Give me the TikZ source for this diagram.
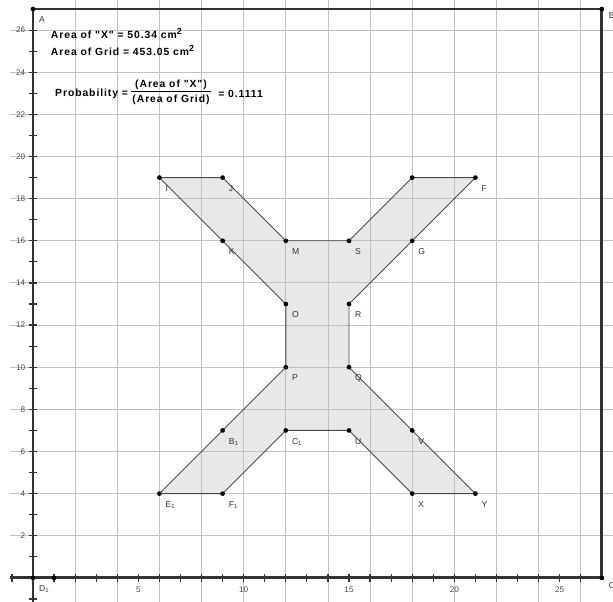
\documentclass[tikz,border=0pt]{standalone}
\usepackage{fontspec}
\setmainfont{Liberation Sans}
\newfontfamily\chicagofont[LetterSpace=9]{Liberation Sans}
\newcommand{\sqsup}{\raisebox{2.4pt}{\fontsize{6}{6}\selectfont 2}}
\begin{document}
\begin{tikzpicture}[x=0.5cm,y=0.5cm,
  gridline/.style={draw=black!24, line width=0.6pt},
  axisline/.style={draw=black!80, line width=1.9pt},
  tickline/.style={draw=black!80, line width=0.8pt},
  edge/.style={draw=black!70, line width=0.6pt},
  fillc/.style={fill=black!9},
  ptlabel/.style={font=\fontsize{5.8}{6}\selectfont, text=black!80, anchor=north west, inner sep=0pt, xshift=4pt, yshift=-5pt},
  axlabel/.style={font=\fontsize{5.5}{6}\selectfont, text=black!70, inner sep=0pt},
  infotext/.style={font=\chicagofont\fontsize{7}{8}\selectfont\bfseries, inner sep=0pt, anchor=west}
]
\useasboundingbox (-1.566,-1.139) rectangle (27.53,27.43);
% polygon vertices
\coordinate (I) at (6,19);
\coordinate (J) at (9,19);
\coordinate (M) at (12,16);
\coordinate (S) at (15,16);
\coordinate (H) at (18,19);
\coordinate (F) at (21,19);
\coordinate (G) at (18,16);
\coordinate (R) at (15,13);
\coordinate (Q) at (15,10);
\coordinate (V) at (18,7);
\coordinate (Y) at (21,4);
\coordinate (X) at (18,4);
\coordinate (U) at (15,7);
\coordinate (C1) at (12,7);
\coordinate (F1) at (9,4);
\coordinate (E1) at (6,4);
\coordinate (B1) at (9,7);
\coordinate (P) at (12,10);
\coordinate (O) at (12,13);
\coordinate (K) at (9,16);
% frame points
\coordinate (A) at (0,27);
\coordinate (B) at (27,27);
\coordinate (C) at (27,0);
\coordinate (D1) at (0,0);
\coordinate (U1) at (1,0);
\coordinate (xl) at (-1.1,0);
\coordinate (yb) at (0,-1.139);
% fill
\fill[fillc] (I) -- (J) -- (M) -- (S) -- (H) -- (F) -- (G) -- (R) -- (Q) -- (V) -- (Y) -- (X) -- (U) -- (C1) -- (F1) -- (E1) -- (B1) -- (P) -- (O) -- (K) -- cycle;
% grid
\foreach \g in {2,4,...,26} {
  \draw[gridline] (\g,-1.139) -- (\g,27.43);
  \draw[gridline] (-1.1,\g) -- (27.53,\g);
}
% edges
\draw[edge] (I) -- (J) -- (M) -- (S) -- (H) -- (F) -- (G) -- (R) -- (Q) -- (V) -- (Y) -- (X) -- (U) -- (C1) -- (F1) -- (E1) -- (B1) -- (P) -- (O) -- (K) -- cycle;
% axes and frame
\foreach \t in {-1,1,2,...,26} {
  \draw[tickline] (\t,-0.19) -- (\t,0.19);
  \draw[tickline] (-0.19,\t) -- (0.19,\t);
}
\draw[axisline] (xl) -- (C);
\draw[axisline] (yb) -- (A) -- (B) -- (C);
% axis labels
\foreach \g in {2,4,...,26} {
  \node[axlabel, anchor=east] (ylab\g) at (-0.36,\g) {\g};
}
\foreach \g in {5,10,15,20,25} {
  \node[axlabel] (xlab\g) at (\g,-0.57) {\g};
}
% dots
\foreach \p in {I,J,M,S,H,F,G,R,Q,V,Y,X,U,C1,F1,E1,B1,P,O,K,A,B,C,D1,U1} {
  \fill[black] (\p) circle (1.6pt);
}
% point labels
\node[ptlabel] (lI) at (I) {I};
\node[ptlabel] (lJ) at (J) {J};
\node[ptlabel] (lM) at (M) {M};
\node[ptlabel] (lS) at (S) {S};
\node[ptlabel] (lF) at (F) {F};
\node[ptlabel] (lG) at (G) {G};
\node[ptlabel] (lR) at (R) {R};
\node[ptlabel] (lQ) at (Q) {Q};
\node[ptlabel] (lV) at (V) {V};
\node[ptlabel] (lY) at (Y) {Y};
\node[ptlabel] (lX) at (X) {X};
\node[ptlabel] (lU) at (U) {U};
\node[ptlabel] (lC1) at (C1) {C\textsubscript{1}};
\node[ptlabel] (lF1) at (F1) {F\textsubscript{1}};
\node[ptlabel] (lE1) at (E1) {E\textsubscript{1}};
\node[ptlabel] (lB1) at (B1) {B\textsubscript{1}};
\node[ptlabel] (lP) at (P) {P};
\node[ptlabel] (lO) at (O) {O};
\node[ptlabel] (lK) at (K) {K};
\node[ptlabel] (lA) at (A) {A};
\node[ptlabel, xshift=0.5pt, yshift=3pt] (lB) at (B) {B};
\node[ptlabel, xshift=0.5pt, yshift=2pt] (lC) at (C) {C};
\node[ptlabel] (lD1) at (D1) {D\textsubscript{1}};
% info texts
\node[infotext] (area1) at (0.84,25.85) {Area of "X" = 50.34 cm\sqsup};
\node[infotext] (area2) at (0.84,25.03) {Area of Grid = 453.05 cm\sqsup};
\node[infotext] (probl) at (1.04,22.97) {Probability =};
\node[infotext, anchor=center] (num) at (6.55,23.38) {(Area of "X")};
\node[infotext, anchor=center] (den) at (6.55,22.70) {(Area of Grid)};
\node[infotext] (probv) at (8.78,22.97) {= 0.1111};
\draw[black, line width=0.6pt] ([xshift=-0.5pt,yshift=2pt]den.north west) -- ([xshift=0.5pt,yshift=2pt]den.north east);
\end{tikzpicture}
\end{document}
